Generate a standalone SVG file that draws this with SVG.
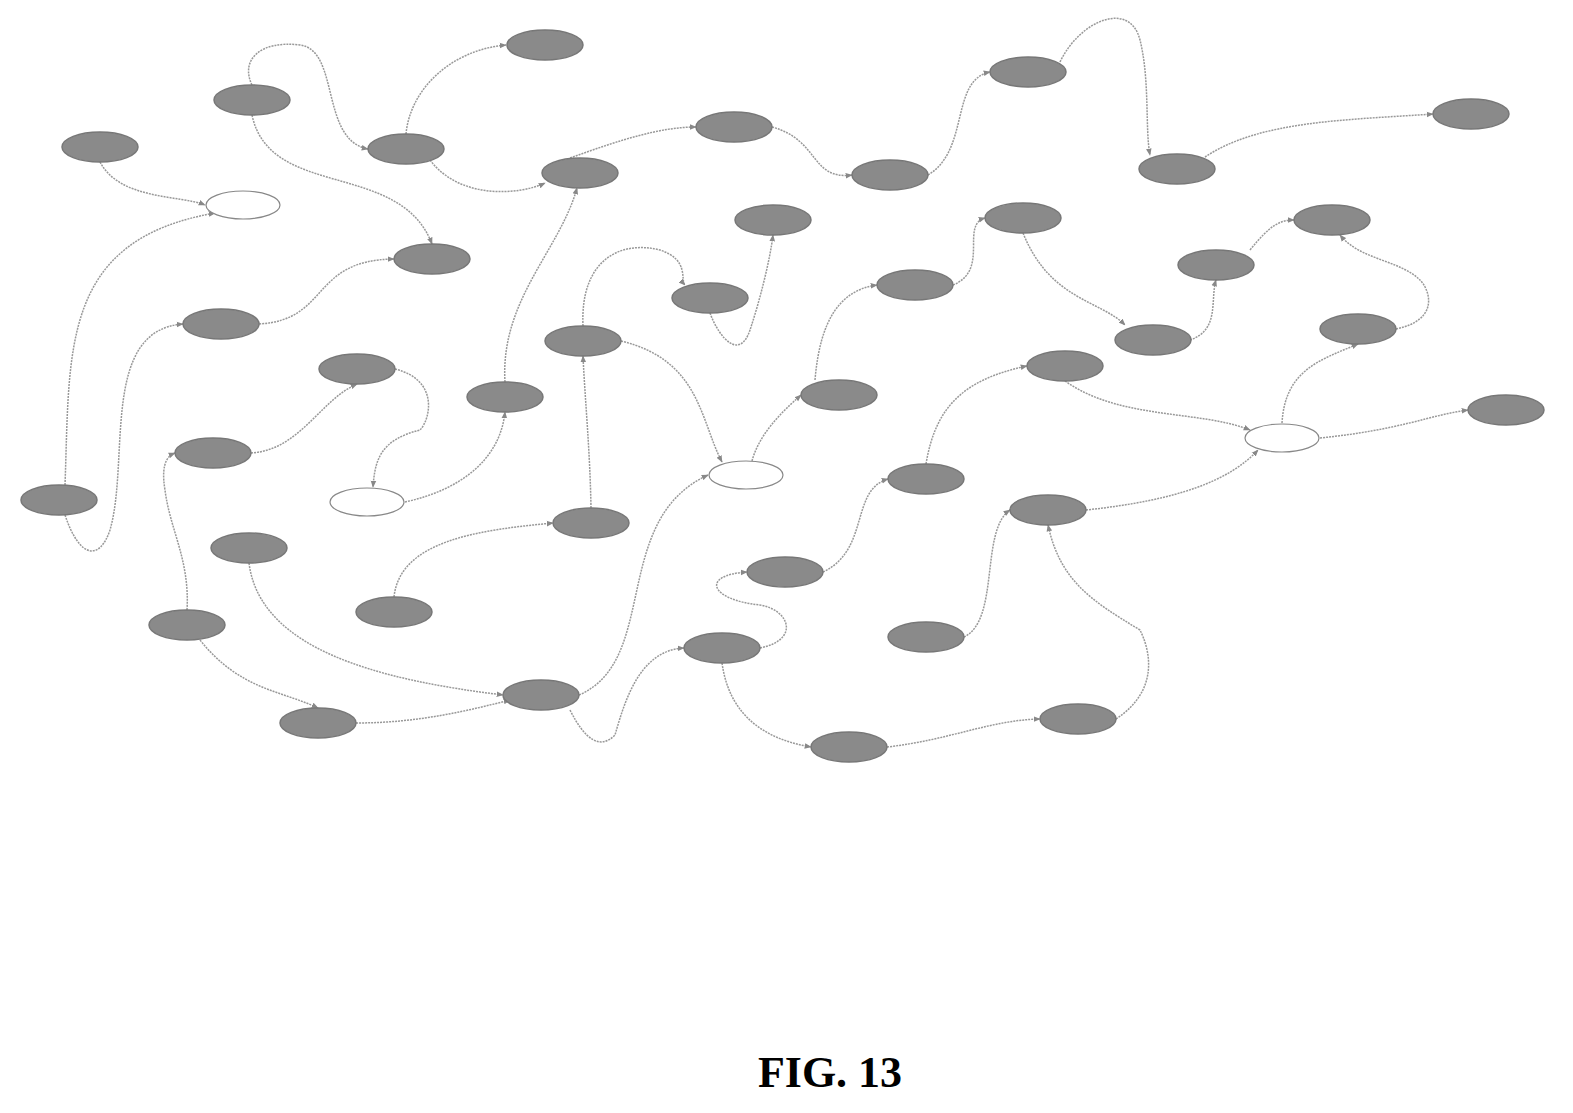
<svg xmlns="http://www.w3.org/2000/svg" width="1573" height="1113" viewBox="0 0 1573 1113">
<style>
.n ellipse{fill:#8a8a8a;stroke:#777;stroke-width:1.5}
.w ellipse{fill:#fff;stroke:#888;stroke-width:1.2}
#edges path{fill:none;stroke:#999;stroke-width:1.5;stroke-dasharray:2 1;marker-end:url(#a)}
text{font-family:"Liberation Serif",serif;font-weight:bold;font-size:44px}
</style>
<defs><marker id="a" viewBox="0 0 10 10" refX="9" refY="5" markerWidth="7" markerHeight="7" orient="auto" markerUnits="userSpaceOnUse"><path d="M0,1L10,5L0,9z" fill="#888"/></marker></defs>
<rect width="1573" height="1113" fill="#fff"/>
<g id="edges">
<path d="M406,134C410,90 450,50 506,45"/>
<path d="M252,85C240,60 260,40 300,45C340,50 320,140 368,149"/>
<path d="M430,160C460,200 520,195 545,183"/>
<path d="M570,158C620,140 660,127 696,127"/>
<path d="M772,127C820,140 810,180 852,175"/>
<path d="M928,175C970,150 950,80 990,72"/>
<path d="M1060,62C1080,20 1130,0 1140,40C1150,80 1145,130 1150,155"/>
<path d="M1205,157C1260,120 1350,120 1433,114"/>
<path d="M100,162C120,200 180,195 205,205"/>
<path d="M252,115C270,200 400,160 432,244"/>
<path d="M65,485C70,350 60,240 215,213"/>
<path d="M65,515C80,560 100,560 110,530C130,460 100,330 183,324"/>
<path d="M259,324C330,320 310,260 394,259"/>
<path d="M583,326C580,260 620,240 660,250C690,260 680,280 685,285"/>
<path d="M710,313C720,340 740,360 750,330C760,300 770,260 773,235"/>
<path d="M621,341C700,360 700,420 722,462"/>
<path d="M752,461C760,430 790,405 801,395"/>
<path d="M815,380C820,320 840,290 877,285"/>
<path d="M953,285C990,270 960,225 985,218"/>
<path d="M1023,233C1050,300 1100,300 1125,325"/>
<path d="M1190,340C1220,330 1210,300 1216,280"/>
<path d="M1250,250C1270,225 1280,220 1294,220"/>
<path d="M1396,329C1440,320 1430,290 1420,280C1400,260 1360,260 1340,235"/>
<path d="M1282,423C1285,370 1320,360 1358,344"/>
<path d="M1320,438C1400,430 1430,415 1468,410"/>
<path d="M1065,381C1120,420 1200,410 1250,430"/>
<path d="M1086,510C1180,500 1230,480 1258,450"/>
<path d="M926,464C935,410 960,380 1027,366"/>
<path d="M395,369C440,380 430,420 420,430C380,440 375,460 373,487"/>
<path d="M405,502C460,490 500,460 505,412"/>
<path d="M505,382C500,300 560,250 577,188"/>
<path d="M591,508C590,450 585,400 583,356"/>
<path d="M394,597C400,540 480,530 553,523"/>
<path d="M251,453C300,450 320,400 357,384"/>
<path d="M187,610C190,560 170,530 165,490C160,460 170,455 175,453"/>
<path d="M200,640C240,690 280,690 318,708"/>
<path d="M356,723C420,723 470,710 510,700"/>
<path d="M249,563C260,650 380,680 503,695"/>
<path d="M579,695C660,660 610,520 708,475"/>
<path d="M570,710C585,740 600,750 615,735C625,700 640,650 684,648"/>
<path d="M760,648C800,640 790,610 760,605C710,600 700,575 747,572"/>
<path d="M823,572C870,550 850,490 888,479"/>
<path d="M722,663C730,720 770,740 811,747"/>
<path d="M887,747C950,740 990,720 1040,719"/>
<path d="M1116,719C1160,690 1150,650 1140,630C1090,600 1060,580 1048,525"/>
<path d="M964,637C1000,620 980,530 1010,510"/>
</g>
<g class="n" id="n1"><ellipse cx="545" cy="45" rx="38" ry="15"/></g>
<g class="n" id="n2"><ellipse cx="252" cy="100" rx="38" ry="15"/></g>
<g class="n" id="n3"><ellipse cx="100" cy="147" rx="38" ry="15"/></g>
<g class="n" id="n4"><ellipse cx="406" cy="149" rx="38" ry="15"/></g>
<g class="n" id="n5"><ellipse cx="734" cy="127" rx="38" ry="15"/></g>
<g class="n" id="n6"><ellipse cx="1028" cy="72" rx="38" ry="15"/></g>
<g class="n" id="n7"><ellipse cx="1471" cy="114" rx="38" ry="15"/></g>
<g class="n" id="n8"><ellipse cx="1177" cy="169" rx="38" ry="15"/></g>
<g class="n" id="n9"><ellipse cx="890" cy="175" rx="38" ry="15"/></g>
<g class="n" id="n10"><ellipse cx="580" cy="173" rx="38" ry="15"/></g>
<g class="w" id="n11"><ellipse cx="243" cy="205" rx="37" ry="14"/></g>
<g class="n" id="n12"><ellipse cx="432" cy="259" rx="38" ry="15"/></g>
<g class="n" id="n13"><ellipse cx="773" cy="220" rx="38" ry="15"/></g>
<g class="n" id="n14"><ellipse cx="1023" cy="218" rx="38" ry="15"/></g>
<g class="n" id="n15"><ellipse cx="1332" cy="220" rx="38" ry="15"/></g>
<g class="n" id="n16"><ellipse cx="1216" cy="265" rx="38" ry="15"/></g>
<g class="n" id="n17"><ellipse cx="710" cy="298" rx="38" ry="15"/></g>
<g class="n" id="n18"><ellipse cx="915" cy="285" rx="38" ry="15"/></g>
<g class="n" id="n19"><ellipse cx="221" cy="324" rx="38" ry="15"/></g>
<g class="n" id="n20"><ellipse cx="1153" cy="340" rx="38" ry="15"/></g>
<g class="n" id="n21"><ellipse cx="1358" cy="329" rx="38" ry="15"/></g>
<g class="n" id="n22"><ellipse cx="583" cy="341" rx="38" ry="15"/></g>
<g class="n" id="n23"><ellipse cx="357" cy="369" rx="38" ry="15"/></g>
<g class="n" id="n24"><ellipse cx="1065" cy="366" rx="38" ry="15"/></g>
<g class="n" id="n25"><ellipse cx="505" cy="397" rx="38" ry="15"/></g>
<g class="n" id="n26"><ellipse cx="839" cy="395" rx="38" ry="15"/></g>
<g class="n" id="n27"><ellipse cx="1506" cy="410" rx="38" ry="15"/></g>
<g class="w" id="n28"><ellipse cx="1282" cy="438" rx="37" ry="14"/></g>
<g class="n" id="n29"><ellipse cx="213" cy="453" rx="38" ry="15"/></g>
<g class="w" id="n30"><ellipse cx="746" cy="475" rx="37" ry="14"/></g>
<g class="n" id="n31"><ellipse cx="926" cy="479" rx="38" ry="15"/></g>
<g class="n" id="n32"><ellipse cx="59" cy="500" rx="38" ry="15"/></g>
<g class="w" id="n33"><ellipse cx="367" cy="502" rx="37" ry="14"/></g>
<g class="n" id="n34"><ellipse cx="1048" cy="510" rx="38" ry="15"/></g>
<g class="n" id="n35"><ellipse cx="591" cy="523" rx="38" ry="15"/></g>
<g class="n" id="n36"><ellipse cx="249" cy="548" rx="38" ry="15"/></g>
<g class="n" id="n37"><ellipse cx="785" cy="572" rx="38" ry="15"/></g>
<g class="n" id="n38"><ellipse cx="394" cy="612" rx="38" ry="15"/></g>
<g class="n" id="n39"><ellipse cx="187" cy="625" rx="38" ry="15"/></g>
<g class="n" id="n40"><ellipse cx="926" cy="637" rx="38" ry="15"/></g>
<g class="n" id="n41"><ellipse cx="722" cy="648" rx="38" ry="15"/></g>
<g class="n" id="n42"><ellipse cx="541" cy="695" rx="38" ry="15"/></g>
<g class="n" id="n43"><ellipse cx="318" cy="723" rx="38" ry="15"/></g>
<g class="n" id="n44"><ellipse cx="849" cy="747" rx="38" ry="15"/></g>
<g class="n" id="n45"><ellipse cx="1078" cy="719" rx="38" ry="15"/></g>
<text x="830" y="1087" text-anchor="middle">FIG. 13</text>
</svg>
